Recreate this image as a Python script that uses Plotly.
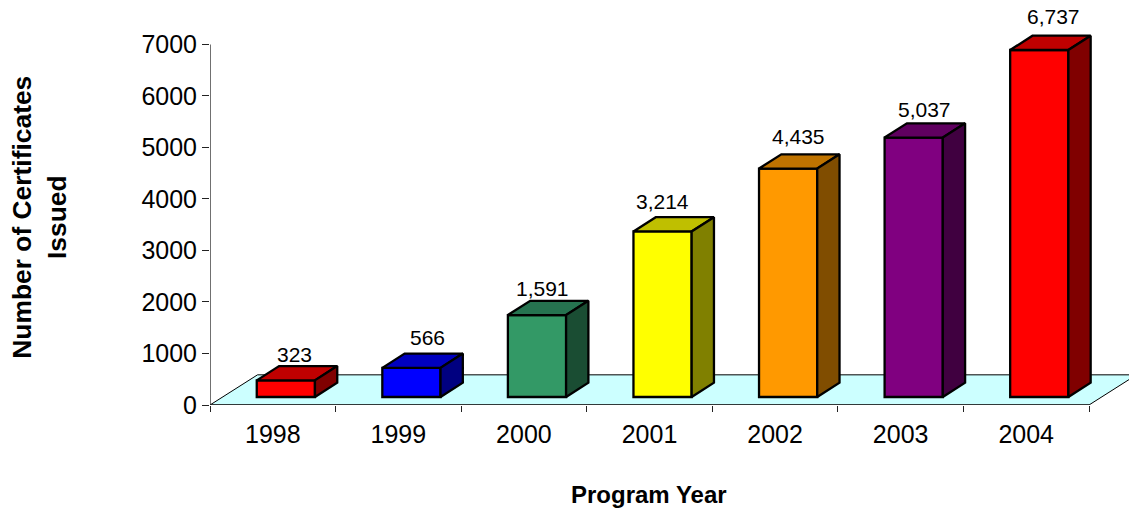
import plotly.graph_objects as go

years = ["1998", "1999", "2000", "2001", "2002", "2003", "2004"]
certificates = [323, 566, 1591, 3214, 4435, 5037, 6737]
y_ticks = [0, 1000, 2000, 3000, 4000, 5000, 6000, 7000]
front_colors = ["#FF0000", "#0000FF", "#339966", "#FFFF00", "#FF9900", "#800080", "#FF0000"]
top_colors = ["#BF0000", "#0000BF", "#267350", "#BFBF00", "#BF7300", "#600060", "#BF0000"]
side_colors = ["#800000", "#000080", "#1A4D33", "#808000", "#804D00", "#400040", "#800000"]
label_shifts = [(-3, 12), (5, 16), (-6, 12), (-11, 16), (-1, 18), (0, 14), (3, 19)]


def build():
    px_x = 879 / 7
    px_y = 361 / 7000
    width, height, left, plot_bottom = 1129, 510, 210, 405.5
    dx, dy = 22.3 / px_x, 14.3 / px_y          # bar depth
    fdx, fdy = 47.5 / px_x, 30.2 / px_y        # floor depth
    bar_w, offset, base = 58.2 / px_x, 0.604, 8 / px_y
    n = len(years)
    x_max = (width - left) / px_x
    y_max = plot_bottom / px_y

    fig = go.Figure()
    xs = [i + offset for i in range(n)]
    fig.add_trace(go.Bar(
        x=xs, y=certificates, base=[base] * n, width=bar_w,
        marker=dict(color=front_colors, line=dict(color="black", width=2.3)),
        hoverinfo="skip", showlegend=False,
    ))
    for c, v, tc, sc in zip(xs, certificates, top_colors, side_colors):
        x0, x1, y0, y1 = c - bar_w / 2, c + bar_w / 2, base, base + v
        fig.add_trace(go.Scatter(
            x=[x0, x1, x1 + dx, x0 + dx, x0], y=[y1, y1, y1 + dy, y1 + dy, y1],
            mode="lines", fill="toself", fillcolor=tc,
            line=dict(color="black", width=2.3), showlegend=False, hoverinfo="skip"))
        fig.add_trace(go.Scatter(
            x=[x1, x1 + dx, x1 + dx, x1, x1], y=[y0, y0 + dy, y1 + dy, y1, y0],
            mode="lines", fill="toself", fillcolor=sc,
            line=dict(color="black", width=2.3), showlegend=False, hoverinfo="skip"))

    floor = f"M0,0 L{n},0 L{n + fdx},{fdy} L{fdx},{fdy} Z"
    shapes = [
        dict(type="path", path=floor, xref="x", yref="y", layer="below",
             fillcolor="#CCFFFF", line=dict(color="black", width=1)),
        dict(type="line", xref="x", yref="y", x0=0, x1=0, y0=0, y1=y_ticks[-1],
             line=dict(color="#222222", width=1.3)),
        dict(type="line", xref="x", yref="y", x0=0, x1=n, y0=0, y1=0,
             line=dict(color="#222222", width=1.3)),
    ]
    annotations = [
        dict(x=c + dx / 2, y=base + v + dy, xref="x", yref="y", text=f"{v:,}",
             showarrow=False, xshift=sx, yshift=sy, xanchor="center", yanchor="middle",
             font=dict(size=21, color="black"))
        for c, v, (sx, sy) in zip(xs, certificates, label_shifts)
    ]
    annotations.append(dict(
        x=(649 - left) / (width - left), y=-(495 - plot_bottom) / plot_bottom,
        xref="paper", yref="paper", text="<b>Program Year</b>", showarrow=False,
        xanchor="center", yanchor="middle", font=dict(size=24, color="black")))
    annotations.append(dict(
        x=(39 - left) / (width - left), y=(plot_bottom - 218) / plot_bottom,
        xref="paper", yref="paper", text="<b>Number of Certificates<br>Issued</b>",
        textangle=-90, showarrow=False, xanchor="center", yanchor="middle",
        font=dict(size=26.4, color="black")))

    fig.update_layout(
        width=width, height=height, autosize=False,
        margin=dict(l=left, r=0, t=0, b=height - plot_bottom, pad=0),
        paper_bgcolor="white", plot_bgcolor="white",
        font=dict(family="Liberation Sans", color="black"),
        showlegend=False, shapes=shapes, annotations=annotations,
        xaxis=dict(
            range=[0, x_max], tickmode="array",
            tickvals=[i + 0.5 for i in range(n)], ticktext=years,
            ticks="", showgrid=False, zeroline=False, showline=False,
            tickfont=dict(size=25), ticklabelstandoff=12,
            minor=dict(tickmode="array", tickvals=list(range(n + 1)), ticks="outside",
                       ticklen=6, tickwidth=1.2, tickcolor="#222222", showgrid=False),
        ),
        yaxis=dict(
            range=[0, y_max], tickmode="array", tickvals=y_ticks,
            ticktext=[str(t) for t in y_ticks],
            ticks="outside", ticklen=7, tickwidth=1.2, tickcolor="#222222",
            showgrid=False, zeroline=False, showline=False,
            tickfont=dict(size=25),
        ),
    )
    return fig


fig = build()
fig.write_html("out.html", config={"displayModeBar": False},
               post_script="document.body.style.margin='0';")
